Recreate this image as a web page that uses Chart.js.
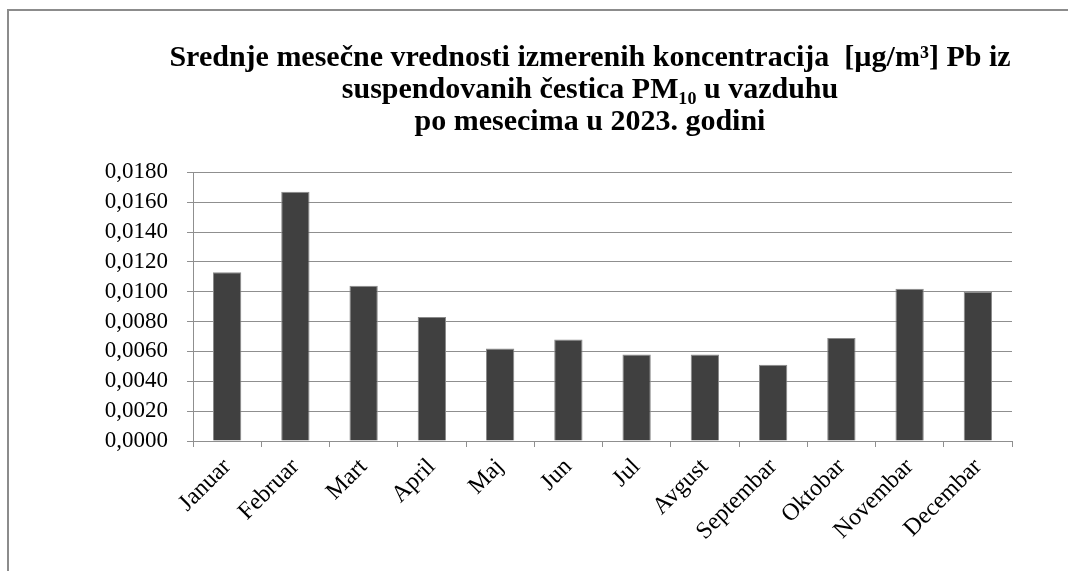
<!DOCTYPE html>
<html>
<head>
<meta charset="utf-8">
<script src="https://cdn.jsdelivr.net/npm/chart.js@4/dist/chart.umd.min.js"></script>
<style>
  html, body { margin: 0; padding: 0; background: #fff; }
  #wrap { position: relative; width: 1068px; height: 571px; }
  #frame {
    position: absolute; left: 7px; top: 9px; right: -4px; bottom: -4px;
    border-top: 2px solid #8c8c8c; border-left: 2px solid #8c8c8c;
    pointer-events: none;
  }
</style>
</head>
<body>
<div id="wrap">
  <canvas id="pbChart" width="1068" height="571"></canvas>
  <div id="frame"></div>
</div>
<script>
// mjeseci
const months = ["Januar", "Februar", "Mart", "April", "Maj", "Jun",
  "Jul", "Avgust", "Septembar", "Oktobar", "Novembar", "Decembar"];

// srednje mesecne vrednosti Pb [ug/m3]
const pbValues = [0.0113, 0.0167, 0.0104, 0.0083, 0.0062, 0.0068,
  0.0058, 0.0058, 0.0051, 0.0069, 0.0102, 0.0100];

const titleLines = [
  "Srednje mesečne vrednosti izmerenih koncentracija  [µg/m³] Pb iz",
  "suspendovanih čestica PM₁₀ u vazduhu",
  "po mesecima u 2023. godini"
];

const yMin = 0;
const yMax = 0.018;
const yStep = 0.002;

const gridColor = "#8f8f8f";
const serif = "'Liberation Serif', 'Times New Roman', serif";

const ctx = document.getElementById("pbChart").getContext("2d");

new Chart(ctx, {
  type: "bar",
  data: {
    labels: months,
    datasets: [
      {
        label: "Pb",
        data: pbValues,
        backgroundColor: "#404040",
        borderColor: "#8a8a8a",
        borderWidth: 1,
        barPercentage: 0.415,
        categoryPercentage: 1
      }
    ]
  },
  options: {
    responsive: false,
    animation: false,
    devicePixelRatio: 1,
    layout: {
      // negativni desni padding samo da naslov bude centriran kao na originalu
      padding: { left: 104, right: -8, top: 0, bottom: 0 }
    },
    plugins: {
      legend: { display: false },
      tooltip: { enabled: false },
      title: {
        display: true,
        text: titleLines,
        color: "#000",
        font: { family: serif, size: 30, weight: "bold", lineHeight: 1.07 },
        padding: { top: 42, bottom: 34 }
      }
    },
    scales: {
      x: {
        offset: true,
        afterFit: (scale) => { scale.height = 130; },
        grid: {
          offset: true,
          drawOnChartArea: false,
          drawTicks: true,
          tickLength: 6,
          color: gridColor
        },
        border: { color: gridColor, width: 1 },
        ticks: {
          color: "#000",
          font: { family: serif, size: 24 },
          maxRotation: 45,
          minRotation: 45,
          autoSkip: false,
          padding: 6
        }
      },
      y: {
        min: yMin,
        max: yMax,
        afterFit: (scale) => { scale.width = 89; },
        grid: {
          color: gridColor,
          drawTicks: true,
          tickLength: 6
        },
        border: { color: gridColor, width: 1 },
        ticks: {
          stepSize: yStep,
          autoSkip: false,
          color: "#000",
          font: { family: serif, size: 23 },
          padding: 19,
          callback: (v) => v.toFixed(4).replace(".", ",")
        }
      },
      // prazan prostor desno od grafika
      yRight: {
        type: "linear",
        position: "right",
        afterFit: (scale) => { scale.width = 64; },
        grid: { display: false },
        border: { display: false },
        ticks: { display: false }
      }
    }
  }
});
</script>
</body>
</html>
